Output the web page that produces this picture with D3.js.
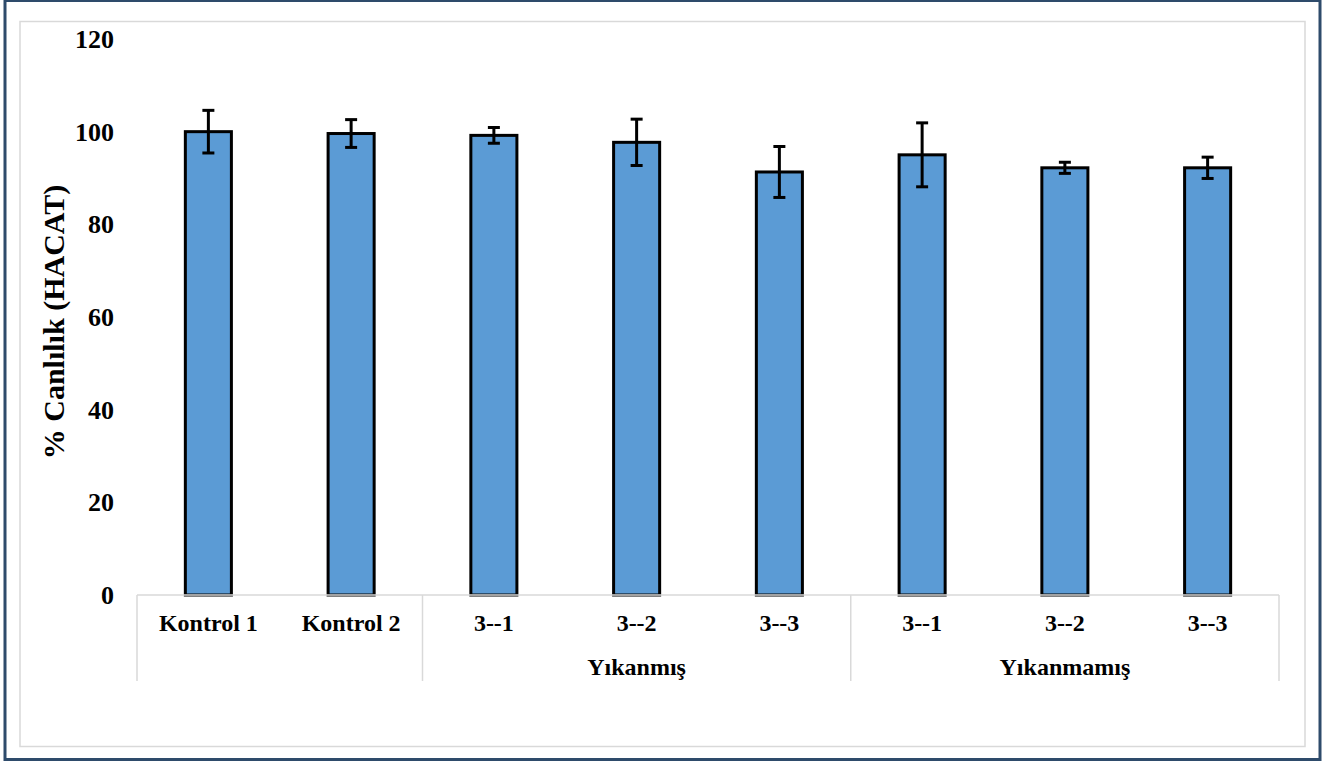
<!DOCTYPE html>
<html lang="tr">
<head>
    <meta charset="UTF-8">
    <title>% Canlılık (HACAT)</title>
    <script src="https://cdn.jsdelivr.net/npm/d3@7"></script>
    <style>
        body{ margin:0; background:#fff; }
        text{
            font-family: "Liberation Serif", "Times New Roman", serif;
            font-weight: bold;
            fill: #000;
        }
    </style>
</head>
<body>
<div class="container"></div>
<script>
    ////////////////////////////////////////////////////////////////
    /*                        Data                                */
    ////////////////////////////////////////////////////////////////
    const categories = ["Kontrol 1", "Kontrol 2", "3--1", "3--2", "3--3", "3--1", "3--2", "3--3"]
    const groupNames = ["", "Yıkanmış", "Yıkanmamış"]
    const groupSizes = [2, 3, 3]
    const values = [100.0, 99.6, 99.2, 97.7, 91.3, 95.0, 92.2, 92.2]
    const errors = [4.6, 3.0, 1.7, 5.0, 5.5, 6.9, 1.2, 2.3]
    const yTicks = [0, 20, 40, 60, 80, 100, 120]

    ////////////////////////////////////////////////////////////////
    /*          Constants and Visualization Containers           */
    ////////////////////////////////////////////////////////////////
    const W = 1330, H = 762
    const plotLeft = 137, plotRight = 1279, plotTop = 39, plotBase = 595
    const svg = d3.select('.container')
        .append("svg")
        .attr("width", W)
        .attr("height", H)

    // frames
    svg.append("rect")
        .attr("x", 5).attr("y", 0.5)
        .attr("width", 1315).attr("height", 759)
        .attr("fill", "none").attr("stroke", "#2e4b6b").attr("stroke-width", 3)
    svg.append("rect")
        .attr("x", 20).attr("y", 21.5)
        .attr("width", 1285).attr("height", 725)
        .attr("fill", "none").attr("stroke", "#d9d9d9").attr("stroke-width", 1.5)

    const x = d3.scaleBand()
        .domain(d3.range(categories.length))
        .range([plotLeft, plotRight])
    const y = d3.scaleLinear()
        .domain([0, 120])
        .range([plotBase, plotTop])

    const barW = x.bandwidth() / 3.1

    ////////////////////////////////////////////////////////////////
    /*                     Y axis labels                          */
    ////////////////////////////////////////////////////////////////
    svg.append("g")
        .selectAll("text")
        .data(yTicks)
        .join("text")
        .attr("x", 114)
        .attr("y", d => y(d))
        .attr("dy", "0.35em")
        .attr("text-anchor", "end")
        .attr("font-size", 26)
        .text(d => d)

    svg.append("text")
        .attr("transform", `translate(${64},${322})rotate(-90)`)
        .attr("text-anchor", "middle")
        .attr("font-size", 30)
        .text("% Canlılık (HACAT)")

    ////////////////////////////////////////////////////////////////
    /*                     Bars + error bars                      */
    ////////////////////////////////////////////////////////////////
    const bars = svg.append("g")
    bars.selectAll("rect")
        .data(values)
        .join("rect")
        .attr("x", (d, i) => x(i) + (x.bandwidth() - barW) / 2)
        .attr("y", d => y(d))
        .attr("width", barW)
        .attr("height", d => y(0) - y(d))
        .attr("fill", "#5b9bd5")
        .attr("stroke", "#000")
        .attr("stroke-width", 3)

    const err = svg.append("g")
        .attr("stroke", "#000")
        .attr("stroke-width", 3)
    const cx = i => x(i) + x.bandwidth() / 2
    err.selectAll(".stem")
        .data(values)
        .join("line").attr("class", "stem")
        .attr("x1", (d, i) => cx(i)).attr("x2", (d, i) => cx(i))
        .attr("y1", (d, i) => y(d + errors[i]))
        .attr("y2", (d, i) => y(d - errors[i]))
    err.selectAll(".capTop")
        .data(values)
        .join("line").attr("class", "capTop")
        .attr("x1", (d, i) => cx(i) - 6).attr("x2", (d, i) => cx(i) + 6)
        .attr("y1", (d, i) => y(d + errors[i]))
        .attr("y2", (d, i) => y(d + errors[i]))
    err.selectAll(".capBot")
        .data(values)
        .join("line").attr("class", "capBot")
        .attr("x1", (d, i) => cx(i) - 6).attr("x2", (d, i) => cx(i) + 6)
        .attr("y1", (d, i) => y(d - errors[i]))
        .attr("y2", (d, i) => y(d - errors[i]))

    ////////////////////////////////////////////////////////////////
    /*                     Multi-level X axis                     */
    ////////////////////////////////////////////////////////////////
    const axis = svg.append("g")
        .attr("stroke", "#d9d9d9")
        .attr("stroke-width", 1.5)
    axis.append("line")
        .attr("x1", plotLeft).attr("x2", plotRight)
        .attr("y1", plotBase).attr("y2", plotBase)

    // group boundaries from cumulative sizes
    const bounds = [0].concat(Array.from(d3.cumsum(groupSizes)))
    const bx = b => b < categories.length ? x(b) : plotRight
    axis.selectAll(".sep")
        .data(bounds)
        .join("line").attr("class", "sep")
        .attr("x1", d => bx(d))
        .attr("x2", d => bx(d))
        .attr("y1", plotBase).attr("y2", 681)

    svg.append("g")
        .selectAll("text")
        .data(categories)
        .join("text")
        .attr("x", (d, i) => cx(i))
        .attr("y", 623)
        .attr("dy", "0.35em")
        .attr("text-anchor", "middle")
        .attr("font-size", 24)
        .text(d => d)

    svg.append("g")
        .selectAll("text")
        .data(groupNames)
        .join("text")
        .attr("x", (d, i) => (bx(bounds[i]) + bx(bounds[i + 1])) / 2)
        .attr("y", 667)
        .attr("dy", "0.35em")
        .attr("text-anchor", "middle")
        .attr("font-size", 24)
        .text(d => d)
</script>
</body>
</html>
